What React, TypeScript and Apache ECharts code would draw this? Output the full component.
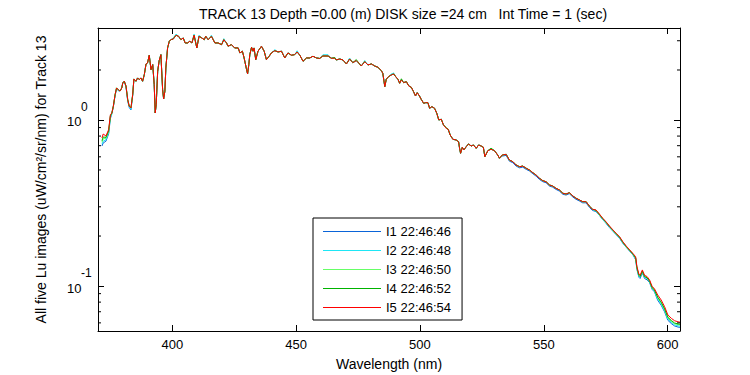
import React, { useEffect, useRef } from 'react';
import * as echarts from 'echarts';

const wavelength = [
  371.6, 372.1, 373.2, 374.3, 375.0, 375.6, 376.2, 376.9, 377.5, 378.2,
  378.9, 379.6, 380.0, 380.6, 381.3, 382.0, 382.6, 383.3, 384.0, 384.5,
  385.3, 386.0, 386.7, 387.3, 388.0, 388.7, 389.4, 390.0, 390.7, 391.4,
  392.1, 392.7, 393.1, 393.5, 394.1, 394.7, 395.4, 396.1, 396.5, 397.0,
  397.4, 398.1, 398.8, 399.4, 400.4, 401.5, 402.5, 403.5, 404.4, 405.2,
  406.2, 407.1, 407.9, 408.8, 409.9, 410.8, 411.9, 412.9, 413.5, 414.5,
  415.8, 417.2, 418.5, 419.9, 420.8, 421.9, 422.5, 423.9, 425.2, 426.6,
  427.3, 428.3, 429.0, 430.0, 430.4, 430.9, 431.3, 432.0, 432.6, 433.0,
  433.7, 434.6, 436.0, 437.1, 438.0, 439.1, 440.0, 441.4, 442.7, 444.1,
  445.4, 446.7, 448.1, 449.4, 450.4, 451.5, 452.8, 454.2, 455.5, 456.8,
  458.2, 459.5, 460.8, 462.9, 464.2, 465.6, 466.2, 467.6, 468.9, 470.3,
  471.6, 472.9, 474.3, 475.6, 476.3, 477.7, 479.0, 480.4, 481.7, 483.0,
  484.4, 485.0, 485.4, 485.8, 486.4, 487.3, 488.4, 489.4, 490.2, 491.1,
  491.8, 492.5, 493.4, 494.5, 495.5, 496.5, 497.4, 498.2, 498.9, 499.8,
  500.5, 501.5, 502.3, 503.2, 503.9, 504.8, 505.9, 506.8, 507.6, 508.6,
  509.5, 510.6, 511.4, 512.2, 513.3, 514.6, 515.6, 516.0, 516.4, 517.1,
  517.7, 518.7, 519.6, 520.7, 521.6, 522.7, 523.7, 524.7, 525.6, 526.2,
  527.4, 528.7, 530.1, 531.4, 532.1, 533.2, 534.8, 536.1, 537.5, 538.8,
  540.2, 541.5, 542.9, 544.2, 545.6, 546.9, 548.2, 549.6, 550.9, 552.3,
  553.6, 554.9, 556.3, 557.7, 559.0, 560.3, 561.8, 563.0, 564.4, 565.7,
  567.1, 568.4, 569.7, 571.1, 572.4, 573.8, 575.1, 576.5, 577.9, 579.2,
  580.6, 581.9, 583.3, 584.7, 586.0, 587.1, 587.6, 588.4, 588.9, 589.8,
  590.7, 591.7, 592.7, 593.8, 594.6, 596.0, 597.4, 598.8, 600.1, 601.5,
  602.8, 604.2, 605.0,
];

const luI1 = [
  0.697, 0.727, 0.745, 0.825, 1.02, 1.09, 1.20, 1.40, 1.54, 1.50,
  1.495, 1.559, 1.671, 1.711, 1.580, 1.300, 1.190, 1.150, 1.400, 1.766,
  1.711, 1.791, 1.748, 1.791, 1.711, 1.875, 2.175, 2.205, 2.454, 2.009,
  2.154, 1.632, 1.102, 1.236, 1.965, 2.276, 2.474, 1.522, 1.338, 1.489,
  2.057, 2.715, 2.980, 3.045, 3.076, 3.237, 3.193, 3.045, 3.119, 2.910,
  2.910, 2.980, 2.910, 3.237, 2.715, 3.193, 3.119, 3.045, 3.193, 3.045,
  3.193, 2.910, 2.910, 2.842, 3.045, 2.910, 2.780, 2.842, 2.715, 2.715,
  2.533, 2.594, 2.363, 2.009, 1.893, 2.154, 2.474, 2.741, 2.594, 2.715,
  2.308, 2.594, 2.780, 2.594, 2.308, 2.419, 2.533, 2.615, 2.568, 2.594,
  2.363, 2.533, 2.454, 2.474, 2.568, 2.454, 2.257, 2.363, 2.363, 2.419,
  2.363, 2.347, 2.429, 2.429, 2.353, 2.353, 2.298, 2.330, 2.298, 2.175,
  2.330, 2.214, 2.276, 2.175, 2.115, 2.245, 2.145, 2.175, 2.115, 2.077,
  1.982, 1.911, 1.742, 1.587, 1.759, 1.823, 1.866, 1.893, 1.823, 1.759,
  1.664, 1.742, 1.678, 1.701, 1.602, 1.574, 1.481, 1.395, 1.460, 1.395,
  1.332, 1.260, 1.271, 1.271, 1.176, 1.203, 1.176, 1.097, 1.000, 1.010,
  0.933, 0.891, 0.879, 0.812, 0.765, 0.758, 0.740, 0.675, 0.630, 0.685,
  0.660, 0.691, 0.717, 0.697, 0.707, 0.675, 0.707, 0.697, 0.685, 0.601,
  0.653, 0.666, 0.653, 0.615, 0.588, 0.606, 0.612, 0.565, 0.553, 0.528,
  0.515, 0.520, 0.504, 0.493, 0.474, 0.459, 0.439, 0.425, 0.419, 0.400,
  0.394, 0.382, 0.373, 0.357, 0.353, 0.360, 0.343, 0.333, 0.325, 0.317,
  0.317, 0.298, 0.285, 0.281, 0.267, 0.251, 0.239, 0.225, 0.214, 0.204,
  0.194, 0.181, 0.171, 0.162, 0.154, 0.144, 0.126, 0.113, 0.111, 0.120,
  0.111, 0.109, 0.105, 0.0950, 0.0929, 0.0821, 0.0766, 0.0698, 0.0622, 0.0594,
  0.0575, 0.0566, 0.0564,
];

const luI2 = [
  0.715, 0.745, 0.760, 0.840, 1.04, 1.10, 1.21, 1.41, 1.55, 1.51,
  1.495, 1.559, 1.671, 1.711, 1.590, 1.310, 1.200, 1.160, 1.410, 1.766,
  1.711, 1.791, 1.748, 1.791, 1.711, 1.875, 2.175, 2.205, 2.454, 2.009,
  2.154, 1.632, 1.102, 1.236, 1.965, 2.276, 2.474, 1.522, 1.338, 1.489,
  2.057, 2.715, 2.980, 3.045, 3.12, 3.29, 3.193, 3.045, 3.119, 2.910,
  2.910, 2.980, 2.910, 3.29, 2.715, 3.24, 3.119, 3.045, 3.193, 3.045,
  3.24, 2.910, 2.910, 2.842, 3.09, 2.910, 2.780, 2.842, 2.715, 2.715,
  2.533, 2.594, 2.363, 2.009, 1.893, 2.154, 2.474, 2.741, 2.594, 2.715,
  2.308, 2.594, 2.780, 2.594, 2.308, 2.419, 2.533, 2.65, 2.568, 2.594,
  2.363, 2.533, 2.454, 2.474, 2.61, 2.454, 2.257, 2.363, 2.363, 2.419,
  2.363, 2.347, 2.47, 2.47, 2.353, 2.353, 2.298, 2.330, 2.298, 2.175,
  2.36, 2.214, 2.276, 2.175, 2.115, 2.28, 2.145, 2.175, 2.115, 2.077,
  1.982, 1.911, 1.742, 1.587, 1.759, 1.823, 1.89, 1.92, 1.823, 1.759,
  1.664, 1.742, 1.678, 1.701, 1.602, 1.574, 1.481, 1.395, 1.460, 1.395,
  1.332, 1.260, 1.271, 1.271, 1.176, 1.203, 1.176, 1.097, 1.000, 1.010,
  0.933, 0.891, 0.879, 0.812, 0.765, 0.758, 0.740, 0.675, 0.630, 0.685,
  0.660, 0.691, 0.717, 0.697, 0.707, 0.675, 0.707, 0.697, 0.685, 0.601,
  0.653, 0.666, 0.653, 0.615, 0.588, 0.615, 0.621, 0.574, 0.561, 0.536,
  0.523, 0.528, 0.512, 0.500, 0.481, 0.466, 0.446, 0.431, 0.425, 0.406,
  0.400, 0.388, 0.379, 0.362, 0.358, 0.365, 0.348, 0.338, 0.330, 0.322,
  0.322, 0.303, 0.290, 0.283, 0.268, 0.252, 0.240, 0.227, 0.215, 0.205,
  0.195, 0.182, 0.171, 0.163, 0.155, 0.146, 0.127, 0.114, 0.113, 0.121,
  0.113, 0.111, 0.106, 0.0960, 0.0939, 0.0834, 0.0779, 0.0709, 0.0632, 0.0604,
  0.0584, 0.0576, 0.0573,
];

const luI3 = [
  0.735, 0.770, 0.775, 0.850, 1.05, 1.10, 1.21, 1.42, 1.56, 1.52,
  1.495, 1.559, 1.671, 1.711, 1.602, 1.325, 1.214, 1.181, 1.420, 1.766,
  1.711, 1.791, 1.748, 1.791, 1.711, 1.875, 2.175, 2.205, 2.454, 2.009,
  2.154, 1.632, 1.102, 1.236, 1.965, 2.276, 2.474, 1.522, 1.338, 1.489,
  2.057, 2.715, 2.980, 3.045, 3.076, 3.237, 3.193, 3.045, 3.119, 2.910,
  2.910, 2.980, 2.910, 3.237, 2.715, 3.193, 3.119, 3.045, 3.193, 3.045,
  3.193, 2.910, 2.910, 2.842, 3.045, 2.910, 2.780, 2.842, 2.715, 2.715,
  2.533, 2.594, 2.363, 2.009, 1.893, 2.154, 2.474, 2.741, 2.594, 2.715,
  2.308, 2.594, 2.780, 2.594, 2.308, 2.419, 2.533, 2.615, 2.568, 2.594,
  2.363, 2.533, 2.454, 2.474, 2.568, 2.454, 2.257, 2.363, 2.363, 2.419,
  2.363, 2.347, 2.429, 2.429, 2.353, 2.353, 2.298, 2.330, 2.298, 2.175,
  2.330, 2.214, 2.276, 2.175, 2.115, 2.245, 2.145, 2.175, 2.115, 2.077,
  1.982, 1.911, 1.742, 1.587, 1.759, 1.823, 1.866, 1.893, 1.823, 1.759,
  1.664, 1.742, 1.678, 1.701, 1.602, 1.574, 1.481, 1.395, 1.460, 1.395,
  1.332, 1.260, 1.271, 1.271, 1.176, 1.203, 1.176, 1.097, 1.000, 1.010,
  0.933, 0.891, 0.879, 0.812, 0.765, 0.758, 0.740, 0.675, 0.630, 0.685,
  0.660, 0.691, 0.717, 0.697, 0.707, 0.675, 0.707, 0.697, 0.685, 0.601,
  0.653, 0.666, 0.653, 0.615, 0.588, 0.615, 0.621, 0.574, 0.561, 0.536,
  0.523, 0.528, 0.512, 0.500, 0.481, 0.466, 0.446, 0.431, 0.425, 0.406,
  0.400, 0.388, 0.379, 0.362, 0.358, 0.365, 0.348, 0.338, 0.330, 0.322,
  0.322, 0.303, 0.290, 0.284, 0.269, 0.253, 0.242, 0.228, 0.216, 0.206,
  0.196, 0.183, 0.172, 0.163, 0.155, 0.147, 0.128, 0.116, 0.114, 0.123,
  0.114, 0.112, 0.107, 0.0970, 0.0949, 0.0848, 0.0791, 0.0720, 0.0642, 0.0613,
  0.0593, 0.0585, 0.0582,
];

const luI4 = [
  0.750, 0.790, 0.785, 0.860, 1.06, 1.10, 1.21, 1.42, 1.56, 1.52,
  1.495, 1.559, 1.671, 1.711, 1.602, 1.325, 1.214, 1.181, 1.420, 1.766,
  1.711, 1.791, 1.748, 1.791, 1.711, 1.875, 2.175, 2.205, 2.454, 2.009,
  2.154, 1.632, 1.102, 1.236, 1.965, 2.276, 2.474, 1.522, 1.338, 1.489,
  2.057, 2.715, 2.980, 3.045, 3.076, 3.237, 3.193, 3.045, 3.119, 2.910,
  2.910, 2.980, 2.910, 3.237, 2.715, 3.193, 3.119, 3.045, 3.193, 3.045,
  3.193, 2.910, 2.910, 2.842, 3.045, 2.910, 2.780, 2.842, 2.715, 2.715,
  2.533, 2.594, 2.363, 2.009, 1.893, 2.154, 2.474, 2.741, 2.594, 2.715,
  2.308, 2.594, 2.780, 2.594, 2.308, 2.419, 2.533, 2.615, 2.568, 2.594,
  2.363, 2.533, 2.454, 2.474, 2.568, 2.454, 2.257, 2.363, 2.363, 2.419,
  2.363, 2.347, 2.429, 2.429, 2.353, 2.38, 2.298, 2.330, 2.298, 2.175,
  2.330, 2.214, 2.31, 2.175, 2.115, 2.245, 2.145, 2.175, 2.115, 2.077,
  1.982, 1.911, 1.742, 1.587, 1.759, 1.823, 1.866, 1.893, 1.823, 1.759,
  1.664, 1.77, 1.678, 1.701, 1.602, 1.574, 1.481, 1.395, 1.460, 1.395,
  1.332, 1.260, 1.271, 1.271, 1.176, 1.203, 1.176, 1.097, 1.000, 1.010,
  0.933, 0.90, 0.879, 0.812, 0.765, 0.758, 0.740, 0.675, 0.630, 0.685,
  0.660, 0.691, 0.717, 0.697, 0.707, 0.675, 0.707, 0.697, 0.685, 0.601,
  0.653, 0.676, 0.653, 0.615, 0.588, 0.615, 0.621, 0.574, 0.561, 0.536,
  0.523, 0.528, 0.512, 0.500, 0.481, 0.466, 0.446, 0.431, 0.425, 0.406,
  0.400, 0.388, 0.379, 0.362, 0.358, 0.365, 0.348, 0.338, 0.330, 0.322,
  0.322, 0.303, 0.290, 0.286, 0.271, 0.255, 0.243, 0.229, 0.217, 0.207,
  0.197, 0.184, 0.173, 0.164, 0.156, 0.148, 0.129, 0.116, 0.114, 0.123,
  0.114, 0.112, 0.107, 0.0975, 0.0953, 0.0857, 0.0799, 0.0728, 0.0649, 0.0620,
  0.0599, 0.0591, 0.0588,
];

const luI5 = [
  0.779, 0.823, 0.801, 0.874, 1.076, 1.102, 1.214, 1.420, 1.559, 1.522,
  1.495, 1.559, 1.671, 1.711, 1.602, 1.325, 1.214, 1.181, 1.420, 1.766,
  1.711, 1.791, 1.748, 1.791, 1.711, 1.875, 2.175, 2.205, 2.454, 2.009,
  2.154, 1.632, 1.102, 1.236, 1.965, 2.276, 2.474, 1.522, 1.338, 1.489,
  2.057, 2.715, 2.980, 3.045, 3.076, 3.237, 3.193, 3.045, 3.119, 2.910,
  2.910, 2.980, 2.910, 3.237, 2.715, 3.193, 3.119, 3.045, 3.193, 3.045,
  3.193, 2.910, 2.910, 2.842, 3.045, 2.910, 2.780, 2.842, 2.715, 2.715,
  2.533, 2.594, 2.363, 2.009, 1.893, 2.154, 2.474, 2.741, 2.594, 2.715,
  2.308, 2.594, 2.780, 2.594, 2.308, 2.419, 2.533, 2.615, 2.568, 2.594,
  2.363, 2.533, 2.454, 2.474, 2.568, 2.454, 2.257, 2.363, 2.363, 2.419,
  2.363, 2.347, 2.429, 2.429, 2.353, 2.353, 2.298, 2.330, 2.298, 2.175,
  2.330, 2.214, 2.276, 2.175, 2.115, 2.245, 2.145, 2.175, 2.115, 2.077,
  1.982, 1.911, 1.742, 1.587, 1.759, 1.823, 1.866, 1.893, 1.823, 1.759,
  1.664, 1.742, 1.678, 1.701, 1.602, 1.574, 1.481, 1.395, 1.460, 1.395,
  1.332, 1.260, 1.271, 1.271, 1.176, 1.203, 1.176, 1.097, 1.000, 1.010,
  0.933, 0.891, 0.879, 0.812, 0.765, 0.758, 0.740, 0.675, 0.630, 0.685,
  0.660, 0.691, 0.717, 0.697, 0.707, 0.675, 0.707, 0.697, 0.685, 0.601,
  0.653, 0.666, 0.653, 0.615, 0.588, 0.615, 0.621, 0.574, 0.561, 0.536,
  0.523, 0.528, 0.512, 0.500, 0.481, 0.466, 0.446, 0.431, 0.425, 0.406,
  0.400, 0.388, 0.379, 0.362, 0.358, 0.365, 0.348, 0.338, 0.330, 0.322,
  0.322, 0.303, 0.290, 0.287, 0.272, 0.256, 0.244, 0.230, 0.218, 0.208,
  0.198, 0.185, 0.174, 0.165, 0.157, 0.150, 0.131, 0.118, 0.116, 0.125,
  0.116, 0.114, 0.109, 0.0990, 0.0968, 0.0883, 0.0824, 0.0750, 0.0669, 0.0639,
  0.0618, 0.0609, 0.0606,
];

const seriesNames = ['I1 22:46:46', 'I2 22:46:48', 'I3 22:46:50', 'I4 22:46:52', 'I5 22:46:54'];
const seriesColors = ['#0a64d8', '#1ee6f5', '#66ff66', '#00b300', '#ff0000'];
const xTickValues = [400, 450, 500, 550, 600];
const yMinorTickValues = [0.06, 0.07, 0.08, 0.09, 0.2, 0.3, 0.4, 0.5, 0.6, 0.7, 0.8, 0.9, 2, 3];
const titleText = 'TRACK 13 Depth =0.00 (m) DISK size =24 cm\u00a0\u00a0\u00a0Int Time = 1 (sec)';
const xLabel = 'Wavelength (nm)';
const yLabel = 'All five Lu images (uW/cm\u00b2/sr/nm) for Track 13';
const xMin = 370;
const xMax = 605;
const yMin = 0.0536;
const yMax = 3.58;

export default function App() {
  const ref = useRef<HTMLDivElement>(null);

  useEffect(() => {
    if (!ref.current) return;
    const chart = echarts.init(ref.current, null, { renderer: 'svg' });
    const font = 'Liberation Sans';
    const black = '#000';
    const all = [luI1, luI2, luI3, luI4, luI5];

    const lineSeries = all.map((vals, i) => ({
      name: seriesNames[i],
      type: 'line',
      data: vals.map((v, j) => [wavelength[j], v]),
      symbol: 'none',
      showSymbol: false,
      lineStyle: { width: 1, color: seriesColors[i] },
      itemStyle: { color: seriesColors[i] },
      xAxisIndex: 0,
      yAxisIndex: 0,
      silent: true,
      z: 2 + i,
    }));

    const minorTicks = {
      type: 'custom',
      xAxisIndex: 0,
      yAxisIndex: 0,
      silent: true,
      encode: { x: 0, y: 1 },
      data: yMinorTickValues.map((v) => [xMin, v]),
      renderItem: (params: any, api: any) => {
        const v = api.value(1);
        const l = api.coord([xMin, v]);
        const r = api.coord([xMax, v]);
        return {
          type: 'group',
          children: [
            { type: 'line', shape: { x1: l[0], y1: l[1], x2: l[0] + 3, y2: l[1] }, style: { stroke: black, lineWidth: 1 } },
            { type: 'line', shape: { x1: r[0] - 3, y1: r[1], x2: r[0], y2: r[1] }, style: { stroke: black, lineWidth: 1 } },
          ],
        };
      },
      z: 10,
    };

    const axisLine = { show: true, onZero: false, lineStyle: { color: black, width: 1 } };

    chart.setOption({
      animation: false,
      backgroundColor: '#fff',
      grid: { left: 98, right: 70, top: 28, bottom: 44, outerBoundsMode: 'none' },
      graphic: [
        {
          type: 'text',
          x: 403,
          y: 14,
          style: {
            text: titleText,
            fontSize: 14,
            fontFamily: font,
            fill: black,
            align: 'center',
            verticalAlign: 'middle',
          },
        },
      ],
      legend: {
        data: seriesNames,
        orient: 'vertical',
        left: 313,
        top: 218,
        padding: [6, 11, 5, 10],
        icon: 'rect',
        itemWidth: 58,
        itemHeight: 1,
        itemGap: 4,
        borderColor: black,
        borderWidth: 1,
        backgroundColor: '#fff',
        selectedMode: false,
        textStyle: { fontSize: 13, color: black, fontFamily: font, lineHeight: 15 },
      },
      xAxis: [
        {
          type: 'value',
          min: xMin,
          max: xMax,
          position: 'bottom',
          axisLine,
          axisTick: { inside: true, length: 6, customValues: xTickValues, lineStyle: { color: black } },
          axisLabel: { customValues: xTickValues, margin: 7, fontSize: 13, color: black, fontFamily: font },
          splitLine: { show: false },
          name: xLabel,
          nameLocation: 'middle',
          nameGap: 26,
          nameTextStyle: { fontSize: 14, color: black, fontFamily: font },
        },
        {
          type: 'value',
          min: xMin,
          max: xMax,
          position: 'top',
          axisLine,
          axisTick: { inside: true, length: 6, customValues: xTickValues, lineStyle: { color: black } },
          axisLabel: { show: false },
          splitLine: { show: false },
        },
      ],
      yAxis: [
        {
          type: 'log',
          logBase: 10,
          min: yMin,
          max: yMax,
          position: 'left',
          axisLine,
          axisTick: { inside: true, length: 6, lineStyle: { color: black } },
          axisLabel: {
            showMinLabel: false,
            showMaxLabel: false,
            align: 'left',
            margin: 31,
            padding: [0, 0, 11, 0],
            formatter: (v: number) => {
              const lg = Math.log10(v);
              const e = Math.round(lg);
              if (Math.abs(lg - e) > 1e-6) return '';
              return `{s|${e}}\n{b|10}`;
            },
            rich: {
              b: { fontSize: 13, lineHeight: 15, color: black, fontFamily: font },
              s: { fontSize: 12, lineHeight: 15, color: black, fontFamily: font, padding: [0, 0, 0, 14] },
            },
          },
          splitLine: { show: false },
          name: yLabel,
          nameLocation: 'middle',
          nameGap: 50,
          nameRotate: 90,
          nameTextStyle: { fontSize: 14, color: black, fontFamily: font },
        },
        {
          type: 'log',
          logBase: 10,
          min: yMin,
          max: yMax,
          position: 'right',
          axisLine,
          axisTick: { inside: true, length: 6, lineStyle: { color: black } },
          axisLabel: { show: false },
          splitLine: { show: false },
        },
      ],
      series: [...lineSeries, minorTicks],
    });

    return () => {
      chart.dispose();
    };
  }, []);

  return (
    <div
      ref={ref}
      style={{ position: 'fixed', left: 0, top: 0, width: 750, height: 375, background: '#fff' }}
    />
  );
}
